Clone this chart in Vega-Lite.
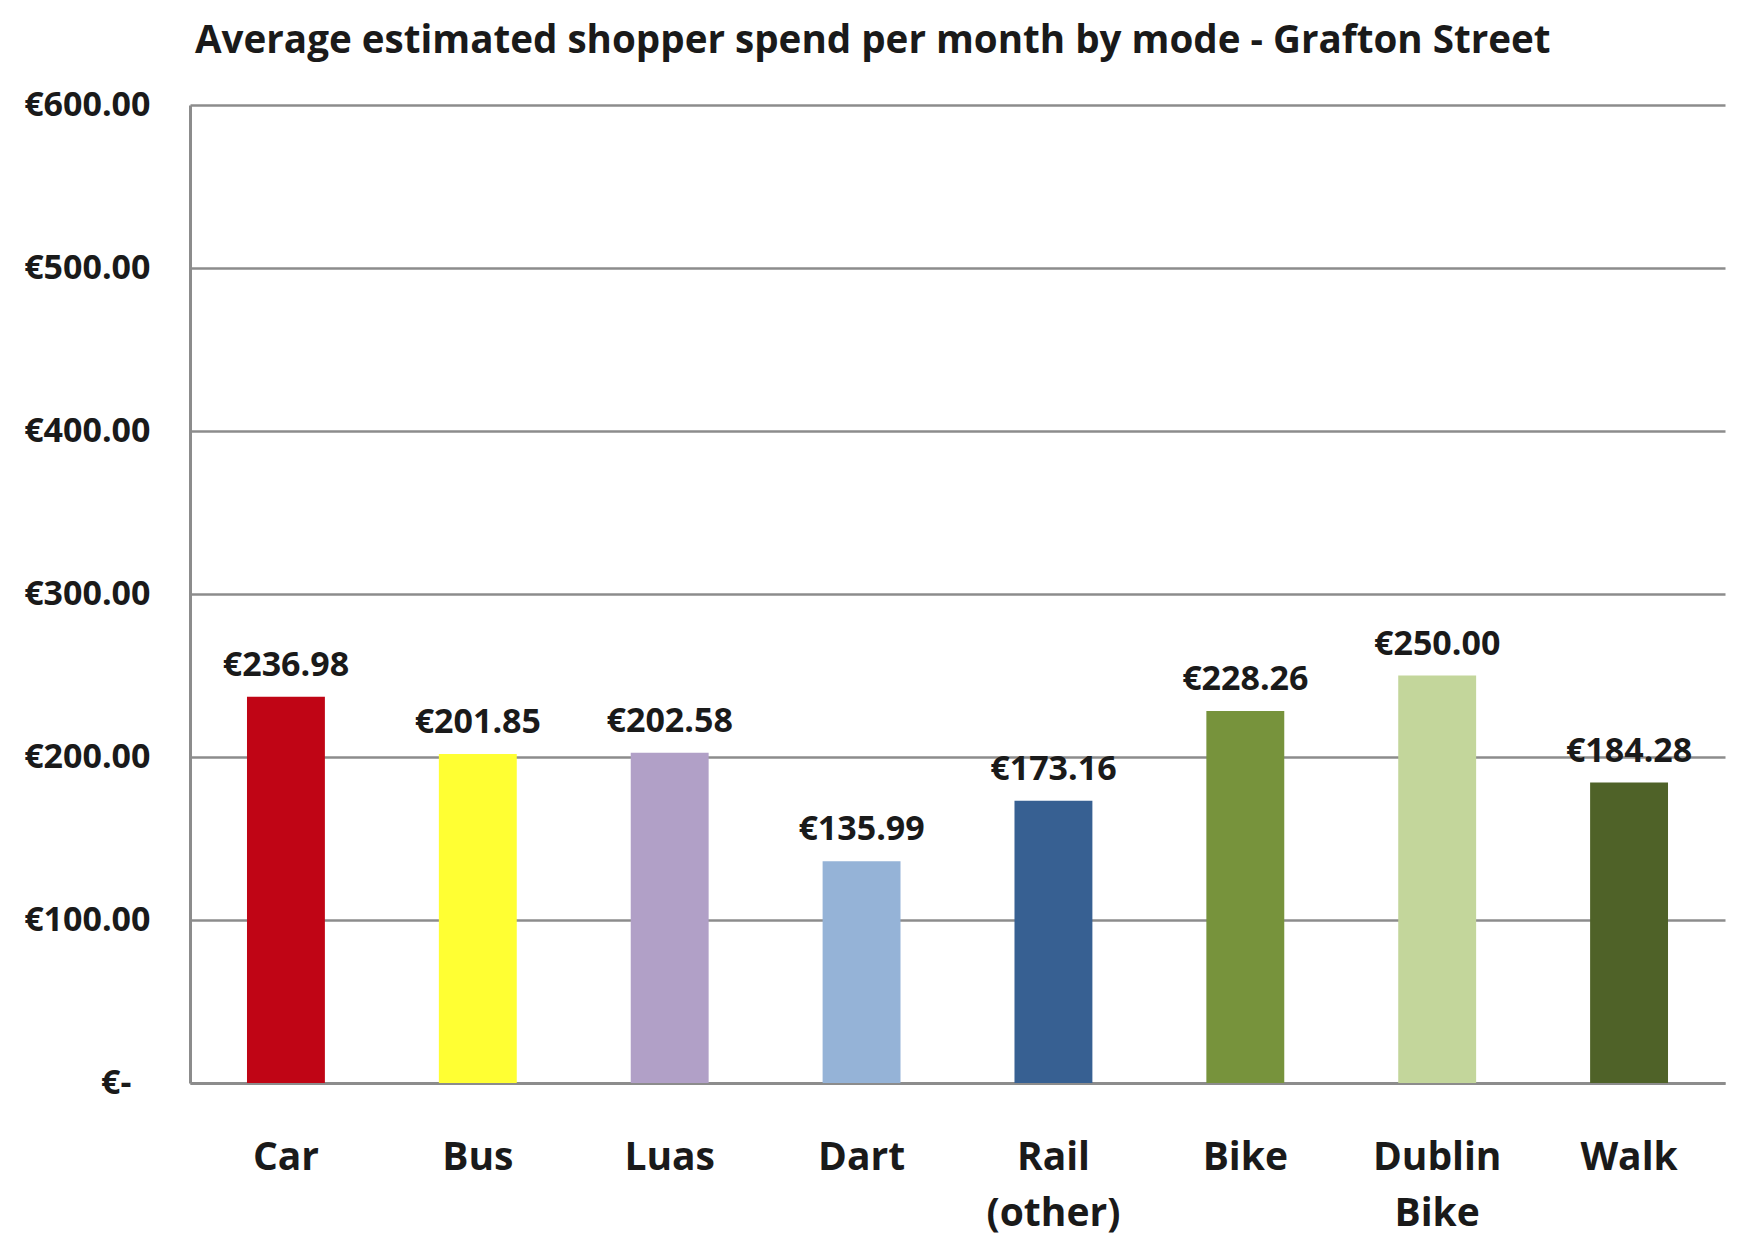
{
  "$schema": "https://vega.github.io/schema/vega-lite/v6.json",
  "width": 1535,
  "height": 978,
  "autosize": {"type": "none"},
  "padding": {"left": 190, "top": 105, "right": 19, "bottom": 175},
  "background": "white",
  "config": {
    "locale": {"number": {"decimal": ".", "thousands": ",", "grouping": [3], "currency": ["€", ""]}},
    "view": {"stroke": null},
    "font": "Open Sans"
  },
  "title": {
    "text": "Average estimated shopper spend per month by mode - Grafton Street",
    "anchor": "start",
    "frame": "group",
    "font": "Open Sans",
    "fontSize": 38.6,
    "fontWeight": "bold",
    "color": "#1a1a1a",
    "dx": 5,
    "offset": 26
  },
  "data": {
    "values": [
      {"mode": "Car", "spend": 236.98},
      {"mode": "Bus", "spend": 201.85},
      {"mode": "Luas", "spend": 202.58},
      {"mode": "Dart", "spend": 135.99},
      {"mode": "Rail (other)", "spend": 173.16},
      {"mode": "Bike", "spend": 228.26},
      {"mode": "Dublin Bike", "spend": 250.0},
      {"mode": "Walk", "spend": 184.28}
    ]
  },
  "encoding": {
    "x": {
      "field": "mode",
      "type": "nominal",
      "sort": null,
      "scale": {"paddingInner": 0.594, "paddingOuter": 0.297},
      "axis": {
        "title": null,
        "labelAngle": 0,
        "labelExpr": "split(datum.label, ' ')",
        "labelFont": "Open Sans",
        "labelFontSize": 39,
        "labelFontWeight": "bold",
        "labelColor": "#1a1a1a",
        "labelPadding": 86,
        "labelLineHeight": 56,
        "labelBaseline": "alphabetic",
        "ticks": false,
        "domain": true,
        "domainColor": "#8c8c8c",
        "domainWidth": 3,
        "grid": false
      }
    },
    "y": {
      "field": "spend",
      "type": "quantitative",
      "scale": {"domain": [0, 600], "nice": false},
      "axis": {
        "title": null,
        "values": [0, 100, 200, 300, 400, 500, 600],
        "labelExpr": "datum.value == 0 ? '€-' : '€' + format(datum.value, ',.2f')",
        "labelFont": "Open Sans",
        "labelFontSize": 34,
        "labelFontWeight": "bold",
        "labelColor": "#1a1a1a",
        "labelPadding": {"condition": {"test": "datum.value == 0", "value": 59}, "value": 40},
        "ticks": false,
        "domain": true,
        "domainColor": "#8c8c8c",
        "domainWidth": 3,
        "grid": true,
        "gridColor": "#8c8c8c",
        "gridWidth": 2.5
      }
    }
  },
  "layer": [
    {
      "mark": {"type": "bar"},
      "encoding": {
        "color": {
          "field": "mode",
          "type": "nominal",
          "scale": {
            "domain": ["Car", "Bus", "Luas", "Dart", "Rail (other)", "Bike", "Dublin Bike", "Walk"],
            "range": ["#C00515", "#FFFF33", "#B1A0C7", "#95B3D7", "#376092", "#77933C", "#C3D69B", "#4F6228"]
          },
          "legend": null
        }
      }
    },
    {
      "mark": {
        "type": "text",
        "font": "Open Sans",
        "fontSize": 34,
        "fontWeight": "bold",
        "color": "#1a1a1a",
        "baseline": "alphabetic",
        "dy": -21
      },
      "encoding": {
        "text": {"field": "spend", "type": "quantitative", "format": "$,.2f"}
      }
    }
  ]
}
